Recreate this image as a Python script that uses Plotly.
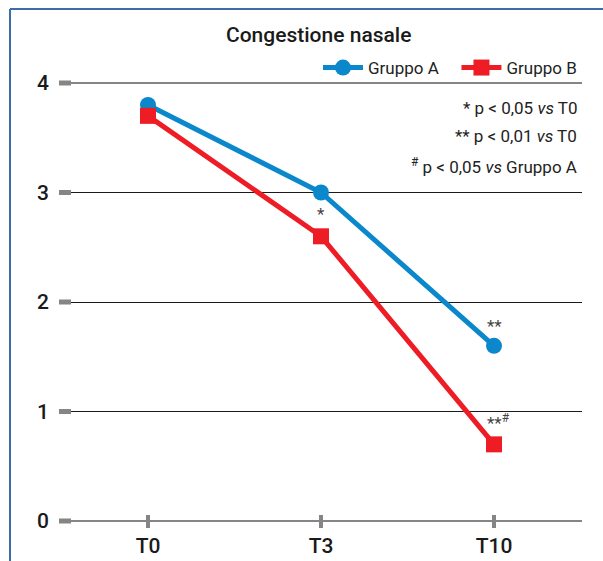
import plotly.graph_objects as go

categories = ["T0", "T3", "T10"]
gruppo_a = [3.8, 3.0, 1.6]
gruppo_b = [3.7, 2.6, 0.7]
y_ticks = [0, 1, 2, 3, 4]
title_text = "Congestione nasale"
notes = ["* p < 0,05 <i>vs</i> T0", "** p < 0,01 <i>vs</i> T0", "<sup>#</sup> p < 0,05 <i>vs</i> Gruppo A"]
marks_a = ["", "", "**"]
marks_b = ["", "*", "**<sup>#</sup>"]

W, H = 603, 561
ML, MR, MT, MB = 60, 21, 50, 30
PW, PH = W - ML - MR, H - MT - MB

def px_x(px):
    return (px - ML) / PW

def px_y(py):
    return (H - MB - py) / PH

FONT = "Roboto, Arial, sans-serif"
BLUE = "#0b87cc"
RED = "#ee1c25"
GRAY = "#858585"

fig = go.Figure()
fig.add_trace(go.Scatter(x=categories, y=gruppo_a, name="Gruppo A   ", mode="lines+markers",
                         line=dict(color=BLUE, width=5), marker=dict(symbol="circle", size=16, color=BLUE),
                         cliponaxis=False))
fig.add_trace(go.Scatter(x=categories, y=gruppo_b, name="Gruppo B", mode="lines+markers",
                         line=dict(color=RED, width=5), marker=dict(symbol="square", size=16, color=RED),
                         cliponaxis=False))

shapes = []
for yv in (y_ticks[0], y_ticks[-1]):
    shapes.append(dict(type="line", xref="paper", yref="y", x0=0, x1=1, y0=yv, y1=yv,
                       line=dict(color=GRAY, width=2), layer="above"))
for yv in y_ticks:
    shapes.append(dict(type="line", xref="paper", yref="y", x0=px_x(59), x1=px_x(71), y0=yv, y1=yv,
                       line=dict(color=GRAY, width=5), layer="above"))
for c in categories:
    shapes.append(dict(type="line", xref="x", yref="paper", x0=c, x1=c, y0=px_y(515), y1=px_y(528),
                       line=dict(color=GRAY, width=4), layer="above"))
shapes.append(dict(type="line", xref="paper", yref="paper", x0=px_x(10), x1=px_x(10), y0=px_y(9), y1=px_y(570),
                   line=dict(color="#3b6ea8", width=2)))
shapes.append(dict(type="line", xref="paper", yref="paper", x0=px_x(10), x1=px_x(610), y0=px_y(9), y1=px_y(9),
                   line=dict(color="#3b6ea8", width=2)))

annotations = []
for i, t in enumerate(notes):
    annotations.append(dict(text=t, xref="paper", yref="paper", x=px_x(579), y=px_y([108, 136, 166][i]),
                            xanchor="right", yanchor="middle", showarrow=False,
                            font=dict(family=FONT, size=17, color="#222")))
for c, v, m in zip(categories, gruppo_a, marks_a):
    if m:
        annotations.append(dict(text=m, x=c, y=v, xref="x", yref="y", yshift=20, showarrow=False,
                                font=dict(family=FONT, size=17, color="#444")))
for c, v, m in zip(categories, gruppo_b, marks_b):
    if m:
        annotations.append(dict(text=m, x=c, y=v, xref="x", yref="y", yshift=22,
                                xshift=4 if "#" in m else 0, showarrow=False,
                                font=dict(family=FONT, size=17, color="#444")))
annotations.append(dict(text=title_text, xref="paper", yref="paper", x=px_x(318), y=px_y(35),
                        xanchor="center", yanchor="middle", showarrow=False,
                        font=dict(family=FONT, size=21, color="#1a1a1a", weight=500)))

fig.update_layout(
    width=W, height=H, margin=dict(l=ML, r=MR, t=MT, b=MB, autoexpand=False),
    paper_bgcolor="white", plot_bgcolor="white",
    font=dict(family=FONT, color="#1a1a1a"),
    showlegend=True,
    legend=dict(orientation="h", xanchor="right", x=px_x(582), yanchor="middle", y=px_y(68),
                font=dict(family=FONT, size=17, color="#222"), bgcolor="rgba(0,0,0,0)",
                itemwidth=40, tracegroupgap=0),
    xaxis=dict(type="category", range=[-(148 - ML) / 173, 2 + (582 - 494) / 173],
               showgrid=False, zeroline=False, showline=False, ticks="", automargin=False,
               tickfont=dict(family=FONT, size=21, color="#1a1a1a", weight=500), ticklabelstandoff=0),
    yaxis=dict(range=[-(531 - 521) / 109.5, (521 - MT) / 109.5], tickvals=y_ticks,
               showgrid=True, gridcolor="#1a1a1a", gridwidth=1, zeroline=False, showline=False,
               automargin=False,
               ticks="", tickfont=dict(family=FONT, size=21, color="#1a1a1a", weight=500), ticklabelstandoff=10),
    shapes=shapes, annotations=annotations,
)
fig.write_html("out.html", config={"displayModeBar": False},
               post_script="document.body.style.margin='0';")
